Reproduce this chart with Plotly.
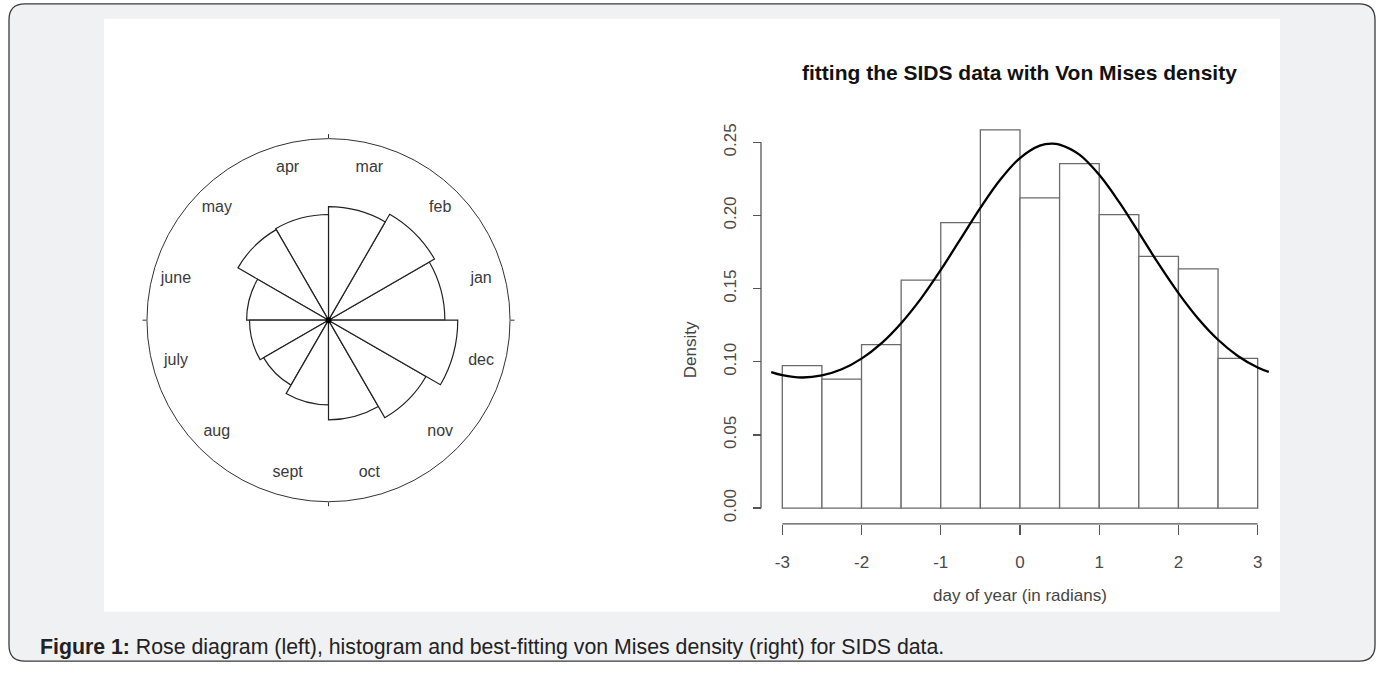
import plotly.graph_objects as go

W, H = 1380, 675

# ---------------- data ----------------
months = ["jan", "feb", "mar", "apr", "may", "june", "july", "aug", "sept", "oct", "nov", "dec"]
month_angle = [15, 45, 75, 105, 135, 165, 195, 225, 255, 285, 315, 345]
rose_radius = [0.641, 0.674, 0.625, 0.582, 0.576, 0.451, 0.435, 0.413, 0.467, 0.549, 0.620, 0.712]

bin_left = [-3.0, -2.5, -2.0, -1.5, -1.0, -0.5, 0.0, 0.5, 1.0, 1.5, 2.0, 2.5]
bin_width = 0.5
density = [0.0974, 0.0882, 0.1118, 0.1559, 0.1952, 0.2586, 0.2121, 0.2355, 0.2006, 0.1721, 0.1635, 0.1024]

curve_x = [-3.14, -3.0, -2.75, -2.5, -2.25, -2.0, -1.75, -1.5, -1.25, -1.0, -0.75, -0.5, -0.25, 0.0,
           0.25, 0.4, 0.5, 0.75, 1.0, 1.25, 1.5, 1.75, 2.0, 2.25, 2.5, 2.75, 3.0, 3.14]
curve_y = [0.0930, 0.0909, 0.0893, 0.0907, 0.0949, 0.1022, 0.1126, 0.1264, 0.1432, 0.1628, 0.1840, 0.2052,
           0.2244, 0.2393, 0.2478, 0.2492, 0.2485, 0.2416, 0.2278, 0.2093, 0.1883, 0.1669, 0.1470, 0.1295,
           0.1151, 0.1040, 0.0961, 0.0931]

x_ticks = [-3, -2, -1, 0, 1, 2, 3]
y_ticks = [0.00, 0.05, 0.10, 0.15, 0.20, 0.25]

FONT = "Liberation Sans, Arial, Helvetica, sans-serif"


def px(x):
    return x / W


def py(y):
    return 1 - y / H


fig = go.Figure()

# ---------------- rose diagram (polar) ----------------
fig.add_trace(go.Barpolar(
    r=rose_radius, theta=month_angle, width=[30] * len(months),
    marker=dict(color="white", line=dict(color="#222222", width=1.2)),
    subplot="polar", hoverinfo="skip", showlegend=False,
))
fig.add_trace(go.Scatterpolar(
    r=[0.87] * len(months), theta=month_angle, text=months, mode="text",
    textfont=dict(family=FONT, size=16, color="#3a3a3a"),
    subplot="polar", hoverinfo="skip", showlegend=False,
))
fig.add_trace(go.Scatterpolar(
    r=[0], theta=[0], mode="markers", marker=dict(color="black", size=6),
    subplot="polar", hoverinfo="skip", showlegend=False,
))

cx, cy, R = 328.5, 324.5, 184
fig.update_layout(polar=dict(
    domain=dict(x=[px(cx - R), px(cx + R)], y=[py(cy + R), py(cy - R)]),
    bgcolor="rgba(0,0,0,0)",
    radialaxis=dict(visible=False, range=[0, 1]),
    angularaxis=dict(direction="counterclockwise", rotation=0, showgrid=False,
                     showline=True, linecolor="#333333", linewidth=1,
                     tickmode="array", tickvals=[0, 90, 180, 270], ticks="outside",
                     ticklen=4, tickcolor="#333333", showticklabels=False),
))

# ---------------- histogram ----------------
bar_x = [b + bin_width / 2 for b in bin_left]
fig.add_trace(go.Bar(
    x=bar_x, y=density, width=[bin_width] * len(bar_x),
    marker=dict(color="white", line=dict(color="#6a6a6a", width=1.3)),
    xaxis="x", yaxis="y", hoverinfo="skip", showlegend=False,
))
fig.add_trace(go.Scatter(
    x=curve_x, y=curve_y, mode="lines", line=dict(color="black", width=2.3, shape="spline"),
    xaxis="x", yaxis="y", hoverinfo="skip", showlegend=False,
))

# pixel geometry of histogram axes
x_left_px, x_right_px = 761, 1270
x_m3_px, px_per_x = 782.3, 79.23
y_top_px, y_bot_px = 125, 520
y0_px, px_per_y = 515, 1482.8

xr = [-3 + (x_left_px - x_m3_px) / px_per_x, -3 + (x_right_px - x_m3_px) / px_per_x]
yr = [(y0_px - y_bot_px) / px_per_y, (y0_px - y_top_px) / px_per_y]

axis_col = "#555555"
tick_font = dict(family=FONT, size=17, color="#4a4a4a")
fig.update_layout(
    xaxis=dict(domain=[px(x_left_px), px(x_right_px)], range=xr, anchor="free",
               position=py(531), showline=False, showgrid=False, zeroline=False,
               tickmode="array", tickvals=x_ticks, ticktext=[str(t) for t in x_ticks],
               ticks="outside", ticklen=10, tickwidth=1.3, tickcolor=axis_col,
               tickfont=tick_font, ticklabelstandoff=13),
    yaxis=dict(domain=[py(y_bot_px), py(y_top_px)], range=yr, anchor="free",
               position=px(761), showline=False, showgrid=False, zeroline=False,
               tickmode="array", tickvals=y_ticks, ticktext=["%.2f" % t for t in y_ticks],
               ticks="outside", ticklen=8, tickwidth=1.3, tickcolor=axis_col, tickangle=-90,
               tickfont=tick_font, ticklabelstandoff=10),
)

# R-style axis lines spanning only the tick range
fig.add_shape(type="line", xref="x", yref="paper", x0=x_ticks[0], x1=x_ticks[-1],
              y0=py(531), y1=py(531), line=dict(color=axis_col, width=1.3))
fig.add_shape(type="line", xref="paper", yref="y", x0=px(761), x1=px(761),
              y0=y_ticks[0], y1=y_ticks[-1], line=dict(color=axis_col, width=1.3))


# ---------------- background frame ----------------
def rounded_rect(x0, y0, x1, y1, r):
    rx, ry = r / W, r / H
    X0, X1 = px(x0), px(x1)
    Y0, Y1 = py(y1), py(y0)  # bottom, top in paper
    return (f"M {X0 + rx},{Y1} L {X1 - rx},{Y1} Q {X1},{Y1} {X1},{Y1 - ry} "
            f"L {X1},{Y0 + ry} Q {X1},{Y0} {X1 - rx},{Y0} L {X0 + rx},{Y0} "
            f"Q {X0},{Y0} {X0},{Y0 + ry} L {X0},{Y1 - ry} Q {X0},{Y1} {X0 + rx},{Y1} Z")


fig.add_shape(type="path", xref="paper", yref="paper", path=rounded_rect(9, 4, 1375, 670, 16),
              fillcolor="#f0f1f3", line=dict(color="#3a3a3a", width=1.3), layer="below")
fig.add_shape(type="rect", xref="paper", yref="paper", x0=px(104), x1=px(1280),
              y0=py(620), y1=py(19), fillcolor="white", line=dict(width=0), layer="below")

# ---------------- texts ----------------
ann = []
ann.append(dict(x=px(1019), y=py(73), xref="paper", yref="paper", showarrow=False,
                text="<b>fitting the SIDS data with Von Mises density</b>",
                font=dict(family=FONT, size=21, color="#111111"), xanchor="center", yanchor="middle"))
ann.append(dict(x=px(690), y=py(355), xref="paper", yref="paper", showarrow=False, text="Density",
                textangle=-90, font=dict(family=FONT, size=17, color="#444444"),
                xanchor="center", yanchor="middle"))
ann.append(dict(x=px(1020), y=py(604), xref="paper", yref="paper", showarrow=False,
                text="day of year (in radians)", font=dict(family=FONT, size=17, color="#444444"),
                xanchor="center", yanchor="middle"))
ann.append(dict(x=px(38), y=py(656), xref="paper", yref="paper", showarrow=False,
                text="<b>Figure 1:</b> Rose diagram (left), histogram and best-fitting von Mises density (right) for SIDS data.",
                font=dict(family=FONT, size=21.3, color="#222222"), xanchor="left", yanchor="middle"))

fig.update_layout(
    width=W, height=H, margin=dict(l=0, r=0, t=0, b=0),
    paper_bgcolor="white", plot_bgcolor="rgba(0,0,0,0)",
    annotations=ann, showlegend=False, hovermode=False, bargap=0,
)

fig.write_html("out.html", config={"displayModeBar": False, "staticPlot": True},
               post_script="document.body.style.margin='0';document.body.style.overflow='hidden';")
